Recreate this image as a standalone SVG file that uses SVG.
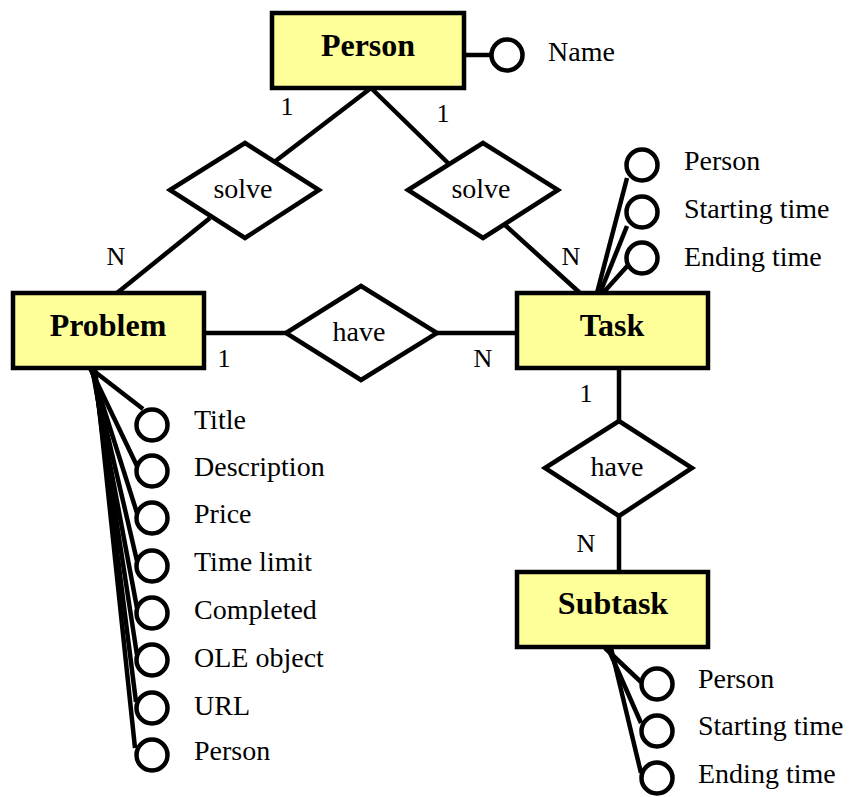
<svg xmlns="http://www.w3.org/2000/svg" width="849" height="797" viewBox="0 0 849 797">
<style>
.ent{fill:#ffff99;stroke:#000;stroke-width:4.5}
.rel{fill:#fff;stroke:#000;stroke-width:4.5}
.att{fill:#fff;stroke:#000;stroke-width:4.5}
.ln{stroke:#000;stroke-width:4.5;fill:none}
.et{font-family:"Liberation Serif","Times New Roman",serif;font-weight:bold;font-size:32px;text-anchor:middle}
.t{font-family:"Liberation Serif","Times New Roman",serif;font-size:28px}
.rt{font-family:"Liberation Serif","Times New Roman",serif;font-size:28px;text-anchor:middle}
.c{font-family:"Liberation Serif","Times New Roman",serif;font-size:26px;text-anchor:middle}
</style>
<rect width="849" height="797" fill="#fff"/>
<g id="connectors">
<line class="ln" x1="371" y1="88" x2="273" y2="163"/>
<line class="ln" x1="371" y1="88" x2="449" y2="164"/>
<line class="ln" x1="210" y1="218" x2="117" y2="293"/>
<line class="ln" x1="505" y1="225" x2="580" y2="293"/>
<line class="ln" x1="204" y1="333" x2="286" y2="333"/>
<line class="ln" x1="437" y1="333" x2="517" y2="333"/>
<line class="ln" x1="619" y1="368" x2="619" y2="421"/>
<line class="ln" x1="619" y1="516" x2="619" y2="572"/>
<line class="ln" x1="464" y1="55" x2="491" y2="55"/>
<line class="ln" x1="597" y1="293" x2="627" y2="178"/>
<line class="ln" x1="600" y1="293" x2="627" y2="226"/>
<line class="ln" x1="603" y1="293" x2="630" y2="263"/>
<line class="ln" x1="605" y1="648" x2="641" y2="682"/>
<line class="ln" x1="608" y1="648" x2="641" y2="723"/>
<line class="ln" x1="611" y1="648" x2="641" y2="773"/>
<line class="ln" x1="90" y1="368" x2="143" y2="409"/>
<line class="ln" x1="90" y1="368" x2="137" y2="466"/>
<line class="ln" x1="91" y1="368" x2="137" y2="513"/>
<line class="ln" x1="92" y1="368" x2="137" y2="561"/>
<line class="ln" x1="92" y1="368" x2="137" y2="608"/>
<line class="ln" x1="93" y1="368" x2="137" y2="655"/>
<line class="ln" x1="94" y1="368" x2="136" y2="702"/>
<line class="ln" x1="95" y1="368" x2="135" y2="748"/>
</g>
<g id="person">
<rect class="ent" x="272" y="13" width="192" height="75"/>
<text class="et" x="368" y="56">Person</text>
</g>
<g id="problem">
<rect class="ent" x="13" y="293" width="191" height="75"/>
<text class="et" x="108" y="336">Problem</text>
</g>
<g id="task">
<rect class="ent" x="517" y="293" width="191" height="75"/>
<text class="et" x="612" y="336">Task</text>
</g>
<g id="subtask">
<rect class="ent" x="517" y="572" width="191" height="75"/>
<text class="et" x="613" y="614">Subtask</text>
</g>
<g id="solve1">
<polygon class="rel" points="170,190 245,143 319,190 245,238"/>
<text class="rt" x="243" y="198">solve</text>
</g>
<g id="solve2">
<polygon class="rel" points="408,190 483,143 558,190 483,238"/>
<text class="rt" x="481" y="198">solve</text>
</g>
<g id="have1">
<polygon class="rel" points="286,333 361,286 437,333 361,380"/>
<text class="rt" x="359" y="341">have</text>
</g>
<g id="have2">
<polygon class="rel" points="545,468 619,421 692,468 619,516"/>
<text class="rt" x="617" y="476">have</text>
</g>
<g id="labels">
<text class="c" x="287" y="115">1</text>
<text class="c" x="443" y="122">1</text>
<text class="c" x="116" y="265">N</text>
<text class="c" x="571" y="265">N</text>
<text class="c" x="224" y="367">1</text>
<text class="c" x="483" y="367">N</text>
<text class="c" x="586" y="402">1</text>
<text class="c" x="586" y="552">N</text>
</g>
<g id="attr-name">
<circle class="att" cx="507" cy="55" r="15.5"/>
<text class="t" x="548" y="61">Name</text>
</g>
<g id="attr-task">
<circle class="att" cx="642" cy="165" r="15.5"/>
<text class="t" x="684" y="170">Person</text>
<circle class="att" cx="642" cy="212" r="15.5"/>
<text class="t" x="684" y="218">Starting time</text>
<circle class="att" cx="642" cy="258" r="15.5"/>
<text class="t" x="684" y="266">Ending time</text>
</g>
<g id="attr-subtask">
<circle class="att" cx="657" cy="684" r="15.5"/>
<text class="t" x="698" y="688">Person</text>
<circle class="att" cx="657" cy="731" r="15.5"/>
<text class="t" x="698" y="735">Starting time</text>
<circle class="att" cx="657" cy="778" r="15.5"/>
<text class="t" x="698" y="783">Ending time</text>
</g>
<g id="attr-problem">
<circle class="att" cx="152" cy="425" r="15.5"/>
<text class="t" x="194" y="429">Title</text>
<circle class="att" cx="152" cy="471" r="15.5"/>
<text class="t" x="194" y="476">Description</text>
<circle class="att" cx="152" cy="518" r="15.5"/>
<text class="t" x="194" y="523">Price</text>
<circle class="att" cx="152" cy="566" r="15.5"/>
<text class="t" x="194" y="571">Time limit</text>
<circle class="att" cx="152" cy="613" r="15.5"/>
<text class="t" x="194" y="619">Completed</text>
<circle class="att" cx="152" cy="660" r="15.5"/>
<text class="t" x="194" y="667">OLE object</text>
<circle class="att" cx="152" cy="708" r="15.5"/>
<text class="t" x="194" y="715">URL</text>
<circle class="att" cx="152" cy="755" r="15.5"/>
<text class="t" x="194" y="760">Person</text>
</g>
</svg>
